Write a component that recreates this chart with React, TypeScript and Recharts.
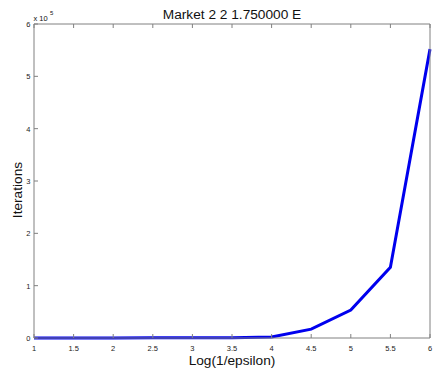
import React from 'react';
import { LineChart, Line, XAxis, YAxis, Customized } from 'recharts';

// x positions (log10 of 1/epsilon) and iteration counts
const logInvEps = [1, 1.5, 2, 2.5, 3, 3.5, 4, 4.5, 5, 5.5, 6];
const iterations = [60, 90, 150, 250, 400, 700, 1800, 17000, 53500, 135000, 552000];
const xTicks = [1, 1.5, 2, 2.5, 3, 3.5, 4, 4.5, 5, 5.5, 6];
const yTicks = [0, 1, 2, 3, 4, 5, 6];

const data = logInvEps.map((x, i) => ({ x, y: iterations[i] / 1e5 }));

const W = 433;
const H = 376;
const AXIS = '#808080';
const FONT = '"Liberation Sans", Arial, Helvetica, sans-serif';

// MATLAB style ticks point into the axes box
const BottomTick = (props: any) => {
  const { x, y, payload } = props;
  return (
    <g>
      <line x1={x} y1={y} x2={x} y2={y - 4} stroke={AXIS} strokeWidth={1} />
      <text x={x} y={y + 12.5} textAnchor="middle" fontSize={7.5} fill="#222" fontFamily={FONT}>
        {payload.value}
      </text>
    </g>
  );
};

const TopTick = (props: any) => {
  const { x, y } = props;
  return <line x1={x} y1={y} x2={x} y2={y + 4} stroke={AXIS} strokeWidth={1} />;
};

const LeftTick = (props: any) => {
  const { x, y, payload } = props;
  return (
    <g>
      <line x1={x} y1={y} x2={x + 4} y2={y} stroke={AXIS} strokeWidth={1} />
      <text x={x - 3.5} y={y + 3} textAnchor="end" fontSize={7.5} fill="#222" fontFamily={FONT}>
        {payload.value}
      </text>
    </g>
  );
};

const RightTick = (props: any) => {
  const { x, y } = props;
  return <line x1={x} y1={y} x2={x - 4} y2={y} stroke={AXIS} strokeWidth={1} />;
};

const Labels = () => (
  <g fontFamily={FONT} fill="#111">
    <text x={232} y={18.5} textAnchor="middle" fontSize={13.7}>
      Market 2 2 1.750000 E
    </text>
    <text x={232} y={365} textAnchor="middle" fontSize={13.7}>
      Log(1/epsilon)
    </text>
    <text x={22} y={190} textAnchor="middle" fontSize={13.7} transform="rotate(-90 22 190)">
      Iterations
    </text>
    <text x={33.5} y={21} fontSize={7.5}>
      x 10
    </text>
    <text x={50} y={14.5} fontSize={6}>
      5
    </text>
  </g>
);

export default function App() {
  return (
    <div style={{ position: 'absolute', left: 0, top: 0, width: W, height: H, background: '#fff' }}>
      <LineChart width={W} height={H} data={data} margin={{ top: 23, right: 2, bottom: 37, left: 33 }}>
        <XAxis
          dataKey="x"
          type="number"
          domain={[1, 6]}
          ticks={xTicks}
          height={1}
          tickSize={0}
          tickMargin={0}
          stroke={AXIS}
          tick={<BottomTick />}
          interval={0}
        />
        <XAxis
          xAxisId="top"
          orientation="top"
          dataKey="x"
          type="number"
          domain={[1, 6]}
          ticks={xTicks}
          height={1}
          tickSize={0}
          tickMargin={0}
          stroke={AXIS}
          tick={<TopTick />}
          interval={0}
        />
        <YAxis
          type="number"
          domain={[0, 6]}
          ticks={yTicks}
          width={1}
          tickSize={0}
          tickMargin={0}
          stroke={AXIS}
          tick={<LeftTick />}
          interval={0}
        />
        <YAxis
          yAxisId="right"
          orientation="right"
          type="number"
          domain={[0, 6]}
          ticks={yTicks}
          width={1}
          tickSize={0}
          tickMargin={0}
          stroke={AXIS}
          tick={<RightTick />}
          interval={0}
        />
        <Line
          dataKey="y"
          stroke="#0000ee"
          strokeWidth={3}
          dot={false}
          isAnimationActive={false}
        />
        <Customized component={Labels} />
      </LineChart>
    </div>
  );
}
